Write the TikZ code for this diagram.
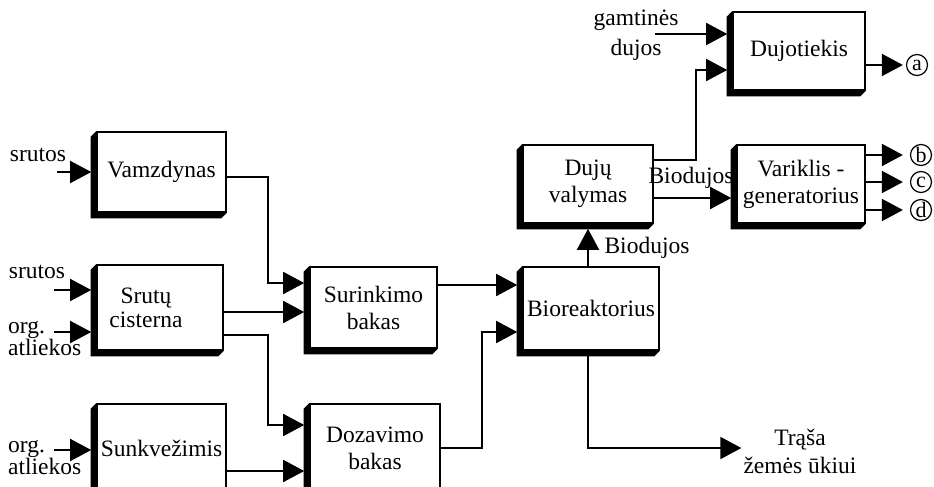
\documentclass[tikz,border=0pt]{standalone}
\usepackage{fontspec}
\setmainfont{Liberation Serif}
\usetikzlibrary{arrows.meta,calc}
\newcommand\boxshadow[1]{\fill (#1.north west) -- ++(-5.5,5.5) -- ($(#1.south west)+(-5.5,5.5)$) -- ($(#1.south east)+(-5.5,5.5)$) -- (#1.south east) -- (#1.south west) -- cycle;}
\begin{document}
\begin{tikzpicture}[x=1pt,y=-1pt,
  box/.style={draw, line width=1.6pt, fill=white, inner sep=0pt, align=center, font=\fontsize{23.5}{27}\selectfont},
  lbl/.style={inner sep=0pt, font=\fontsize{23.5}{27}\selectfont},
  arr/.style={line width=1.8pt, -{Triangle[length=21pt,width=22pt]}, shorten >=5pt},
  circ/.style={circle, draw, line width=1.2pt, minimum size=21pt, inner sep=0pt, font=\fontsize{22}{22}\selectfont}]
\useasboundingbox (0,0) rectangle (934,487);
\clip (0,0) rectangle (934,487);
\fill[white] (0,0) rectangle (934,487);

% boxes
\node[box, minimum width=129pt, minimum height=80pt] (vam) at (161.5,172) {Vamzdynas};
\node[box, minimum width=126pt, minimum height=85pt] (cis) at (160,307.5) {\hspace*{-28pt}Srutų\\[-3pt]\hspace*{-28pt}cisterna};
\node[box, minimum width=129pt, minimum height=88pt] (sun) at (161.5,448) {Sunkvežimis};
\node[box, minimum width=127pt, minimum height=81pt] (sur) at (373.5,307.5) {Surinkimo\\bakas};
\node[box, minimum width=130pt, minimum height=88pt] (doz) at (375,448) {Dozavimo\\bakas};
\node[box, minimum width=136pt, minimum height=83pt] (bio) at (591,308.5) {Bioreaktorius};
\node[box, minimum width=130pt, minimum height=78pt] (val) at (588,184) {Dujų\\valymas};
\node[box, minimum width=132pt, minimum height=78pt] (dt) at (799,51) {Dujotiekis};
\node[box, minimum width=128pt, minimum height=78pt] (vg) at (801,184) {Variklis -\\generatorius};
\boxshadow{vam}\boxshadow{cis}\boxshadow{sun}\boxshadow{sur}\boxshadow{doz}
\boxshadow{bio}\boxshadow{val}\boxshadow{dt}\boxshadow{vg}

% outer labels
\node[lbl] (ls1) at (38,155) {srutos};
\node[lbl] (ls2) at (37,272) {srutos};
\node[lbl, anchor=west, align=left, font=\fontsize{23.5}{22}\selectfont] (lo1) at (8,339) {org.\\atliekos};
\node[lbl, anchor=west, align=left, font=\fontsize{23.5}{22}\selectfont] (lo2) at (8,458) {org.\\atliekos};
\node[lbl, align=center, font=\fontsize{23.5}{30}\selectfont] (lg) at (636,35) {gamtinės\\dujos};
\node[lbl] (lb1) at (647,248) {Biodujos};
\node[lbl] (lb2) at (691,178) {Biodujos};
\node[lbl, align=center, font=\fontsize{23.5}{28}\selectfont] (tr) at (800,451) {Trąša\\žemės ūkiui};

% circles
\node[circ] (ca) at (917,65) {a};
\node[circ] (cb) at (921,155) {b};
\node[circ] (cc) at (921,182) {c};
\node[circ] (cd) at (921,210) {d};

% free input starts
\coordinate (in1) at (57,172);
\coordinate (in2) at (54,290);
\coordinate (in3) at (54,332);
\coordinate (in4) at (54,450);
\coordinate (in5) at (655,34);

\draw[arr] (in1) -- (in1 -| vam.west);
\draw[arr] (in2) -- (in2 -| cis.west);
\draw[arr] (in3) -- (in3 -| cis.west);
\draw[arr] (in4) -- (in4 -| sun.west);
\draw[arr] (in5) -- (in5 -| dt.west);

% connectors
\draw[arr] (vam.east |- 0,177) -| (268,283) -- (sur.west |- 0,283);
\draw[arr] (cis.east |- 0,312) -- (sur.west |- 0,312);
\draw[arr] (cis.east |- 0,335) -| (268,425) -- (doz.west |- 0,425);
\draw[arr] (sun.east |- 0,471) -- (doz.west |- 0,471);
\draw[arr] (sur.east |- 0,285) -- (bio.west |- 0,285);
\draw[arr] (doz.east |- 0,448) -| (482,332) -- (bio.west |- 0,332);
\draw[arr] (bio.north -| 588,0) -- (val.south -| 588,0);
\draw[arr] (val.east |- 0,160) -| (696,70) -- (dt.west |- 0,70);
\draw[arr] (val.east |- 0,198) -- (vg.west |- 0,198);
\draw[arr, shorten >=3pt] (dt.east |- 0,65) -- (ca.west);
\draw[arr, shorten >=7pt] (vg.east |- 0,155) -- (cb.west);
\draw[arr, shorten >=7pt] (vg.east |- 0,182) -- (cc.west);
\draw[arr, shorten >=7pt] (vg.east |- 0,210) -- (cd.west);
\draw[arr, shorten >=2pt] (bio.south -| 588,0) |- (tr.west |- 0,448);
\end{tikzpicture}
\end{document}
